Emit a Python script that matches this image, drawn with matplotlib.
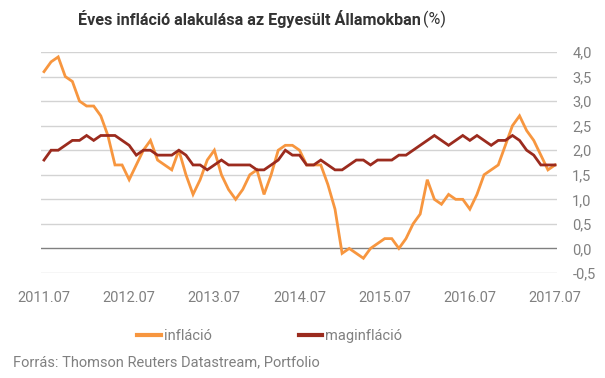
import matplotlib
matplotlib.use("Agg")
import matplotlib.pyplot as plt
from matplotlib.lines import Line2D
from matplotlib.ticker import FuncFormatter

plt.rcParams['font.family'] = ['Roboto', 'DejaVu Sans']

# havi adatok 2011.07 - 2017.07
inflacio = [3.6, 3.8, 3.9, 3.5, 3.4, 3.0, 2.9, 2.9, 2.7, 2.3, 1.7, 1.7,
            1.4, 1.7, 2.0, 2.2, 1.8, 1.7, 1.6, 2.0, 1.5, 1.1, 1.4, 1.8,
            2.0, 1.5, 1.2, 1.0, 1.2, 1.5, 1.6, 1.1, 1.5, 2.0, 2.1, 2.1,
            2.0, 1.7, 1.7, 1.7, 1.3, 0.8, -0.1, 0.0, -0.1, -0.2, 0.0, 0.1,
            0.2, 0.2, 0.0, 0.2, 0.5, 0.7, 1.4, 1.0, 0.9, 1.1, 1.0, 1.0,
            0.8, 1.1, 1.5, 1.6, 1.7, 2.1, 2.5, 2.7, 2.4, 2.2, 1.9, 1.6, 1.7]
maginflacio = [1.8, 2.0, 2.0, 2.1, 2.2, 2.2, 2.3, 2.2, 2.3, 2.3, 2.3, 2.2,
               2.1, 1.9, 2.0, 2.0, 1.9, 1.9, 1.9, 2.0, 1.9, 1.7, 1.7, 1.6,
               1.7, 1.8, 1.7, 1.7, 1.7, 1.7, 1.6, 1.6, 1.7, 1.8, 2.0, 1.9,
               1.9, 1.7, 1.7, 1.8, 1.7, 1.6, 1.6, 1.7, 1.8, 1.8, 1.7, 1.8,
               1.8, 1.8, 1.9, 1.9, 2.0, 2.1, 2.2, 2.3, 2.2, 2.1, 2.2, 2.3,
               2.2, 2.3, 2.2, 2.1, 2.2, 2.2, 2.3, 2.2, 2.0, 1.9, 1.7, 1.7, 1.7]
xcimkek = ['2011.07', '2012.07', '2013.07', '2014.07', '2015.07', '2016.07', '2017.07']

narancs = '#F7963F'
bordo = '#9B2B1E'
szurke = '#808080'

t = list(range(len(inflacio)))

fig = plt.figure(figsize=(6.05, 3.78), dpi=100)
ax = fig.add_axes([0.0678, 0.2778, 0.8529, 0.5846])

yt = [-0.5 + 0.5*k for k in range(10)]
for v in yt:
    ax.axhline(v, color='#808080' if v == 0 else '#d3d3d3', lw=1, zorder=0)

ax.plot(t, inflacio, color=narancs, lw=2.0, solid_joinstyle='miter')
ax.plot(t, maginflacio, color=bordo, lw=2.0, solid_joinstyle='miter')

ax.set_ylim(-0.5, 4.0)
ax.set_xlim(-0.42, 72.28)
ax.set_yticks(yt)
ax.yaxis.set_major_formatter(FuncFormatter(lambda v, p: ('%.1f' % v).replace('.', ',')))
ax.yaxis.tick_right()
ax.set_xticks(range(0, 73, 12))
ax.set_xticklabels(xcimkek)
ax.tick_params(axis='both', length=0, labelsize=10.5, colors=szurke)
ax.tick_params(axis='y', pad=11)
ax.tick_params(axis='x', pad=13)
for s in ax.spines.values():
    s.set_visible(False)

fig.text(0.695, 0.95, 'Éves infláció alakulása az Egyesült Államokban', ha='right',
         va='center', fontsize=11.6, fontweight='bold', color='#333333')
fig.text(0.699, 0.95, '(%)', ha='left', va='center', fontsize=11.6, color='#333333')

h = [Line2D([], [], color=narancs, lw=3), Line2D([], [], color=bordo, lw=3)]
fig.legend(h, ['infláció', 'maginfláció'], loc='center', bbox_to_anchor=(0.446, 0.11),
           ncol=2, frameon=False, fontsize=10.5, handlelength=1.6, handletextpad=0.2,
           columnspacing=6, labelcolor=szurke)

fig.text(0.021, 0.042, 'Forrás: Thomson Reuters Datastream, Portfolio', fontsize=10.5,
         color=szurke, va='center')

fig.savefig('out.png', dpi=100)
